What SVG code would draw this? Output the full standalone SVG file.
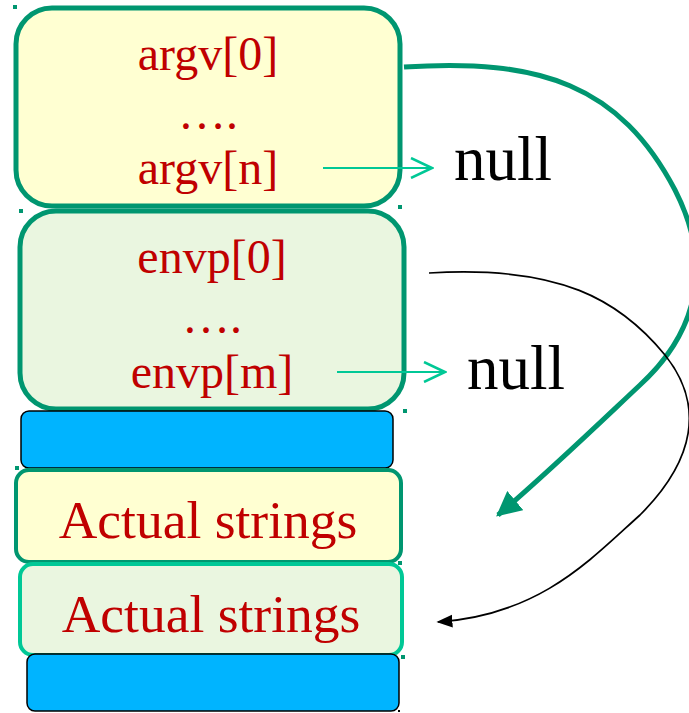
<svg xmlns="http://www.w3.org/2000/svg" width="689" height="713" viewBox="0 0 689 713">
<defs>
<style>
.lbl{font-family:"Liberation Serif","Times New Roman",serif;fill:#C00000;text-anchor:middle}
.nul{font-family:"Liberation Serif","Times New Roman",serif;fill:#000;font-size:63px}
.dk{stroke:#009670;stroke-width:5}
.bar{fill:#00B4FF;stroke:#000;stroke-width:1.5}
.h{fill:#009670}
</style>
<marker id="chev" viewBox="0 0 24 22" refX="22" refY="11" markerWidth="24" markerHeight="22" markerUnits="userSpaceOnUse" orient="auto">
<path d="M1,1 L22,11 L1,21" fill="none" stroke="#00C896" stroke-width="2.5"/>
</marker>
<marker id="gArrow" viewBox="0 0 10 10" refX="9" refY="5" markerWidth="5" markerHeight="5" orient="auto">
<path d="M0,0 L10,5 L0,10 z" fill="#009670"/>
</marker>
<marker id="bArrow" viewBox="0 0 10 10" refX="9" refY="5" markerWidth="16" markerHeight="16" markerUnits="userSpaceOnUse" orient="auto">
<path d="M0,1 L10,5 L0,9 z" fill="#000"/>
</marker>
</defs>
<g id="argv">
<rect x="16" y="8" width="384" height="198" rx="36" fill="#FFFFD2" class="dk"/>
<text class="lbl" x="208" y="70" font-size="48">argv[0]</text>
<text class="lbl" x="208" y="129" font-size="48">….</text>
<text class="lbl" x="208" y="184" font-size="48">argv[n]</text>
</g>
<g id="envp">
<rect x="20" y="211" width="384" height="198" rx="36" fill="#EAF6E0" class="dk"/>
<text class="lbl" x="212" y="273" font-size="48">envp[0]</text>
<text class="lbl" x="212" y="333" font-size="48">….</text>
<text class="lbl" x="212" y="388" font-size="48">envp[m]</text>
</g>
<g id="bar1"><rect class="bar" x="21" y="411" width="372" height="57" rx="8"/></g>
<g id="strings1">
<rect x="16" y="470" width="385" height="92" rx="13" fill="#FFFFD2" stroke="#009670" stroke-width="4"/>
<text class="lbl" x="208" y="538" font-size="53.5">Actual strings</text>
</g>
<g id="strings2">
<rect x="20" y="564" width="382" height="91" rx="13" fill="#EAF6E0" stroke="#00C896" stroke-width="4"/>
<text class="lbl" x="211" y="632" font-size="53.5">Actual strings</text>
</g>
<g id="bar2"><rect class="bar" x="27" y="654" width="372" height="57" rx="8"/></g>
<g id="null1"><text class="nul" x="454" y="180">null</text></g>
<g id="null2"><text class="nul" x="467" y="389">null</text></g>
<g id="handles">
<rect class="h" x="13" y="5" width="4" height="4"/>
<rect class="h" x="19" y="209" width="4" height="4"/>
<rect class="h" x="398" y="205" width="4" height="4"/>
<rect class="h" x="403" y="409" width="4" height="4"/>
<rect class="h" x="15" y="466" width="4" height="4"/>
<rect class="h" x="398" y="561" width="4" height="4"/>
<rect class="h" x="401" y="655" width="4" height="4"/>
<rect x="398" y="710" width="2" height="2" fill="#000"/>
</g>
<g id="connectors">
<line x1="323" y1="168" x2="432" y2="168" stroke="#00C896" stroke-width="2" marker-end="url(#chev)"/>
<line x1="337" y1="372" x2="445" y2="372" stroke="#00C896" stroke-width="2" marker-end="url(#chev)"/>
<path d="M404,67 C540,58 620,85 675,190 C712,262 700,330 640,385 C590,432 540,480 498,515" fill="none" stroke="#009670" stroke-width="5" marker-end="url(#gArrow)"/>
<path d="M429,273 C560,265 620,300 665,355 C705,405 695,460 640,515 C590,560 540,615 438,622" fill="none" stroke="#000" stroke-width="1.7" marker-end="url(#bArrow)"/>
</g>
</svg>
